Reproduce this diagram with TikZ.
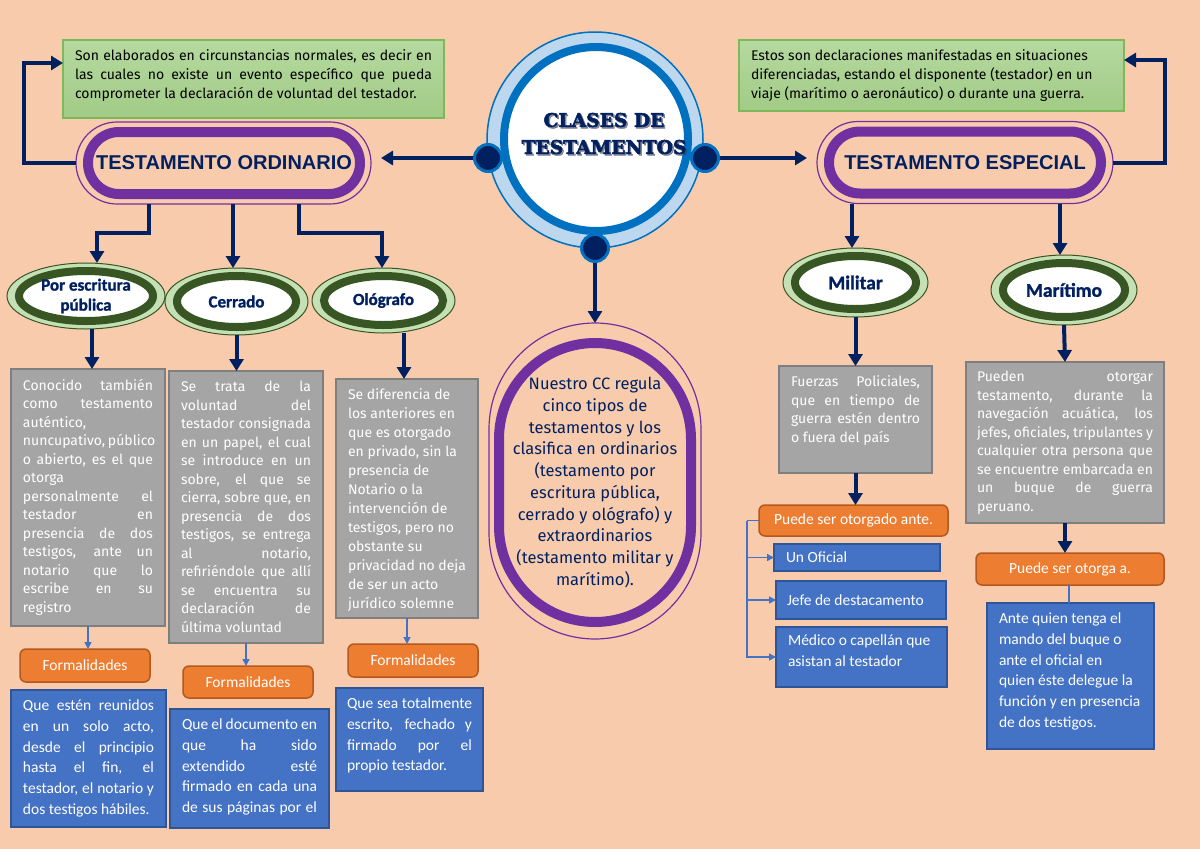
\documentclass[tikz,border=0pt]{standalone}
\usepackage{fontspec}
\setmainfont{Fira Sans}
\newfontfamily\carl[BoldFeatures={FakeBold=1.2}]{Carlito}
\newfontfamily\arl{Liberation Sans}
\newfontfamily\dvs[BoldFeatures={FakeBold=2.5}]{DejaVu Serif}
\usetikzlibrary{arrows.meta,shapes.geometric,calc}
\definecolor{bgc}{HTML}{F8CBAD}
\definecolor{navy}{HTML}{002060}
\definecolor{shadowc}{HTML}{3A3A55}
\definecolor{purp}{HTML}{7030A0}
\definecolor{cblue}{HTML}{0070C0}
\definecolor{ltblue}{HTML}{BDD7EE}
\definecolor{dkgreen}{HTML}{375623}
\definecolor{ltgreen}{HTML}{C5E0B4}
\definecolor{gfillt}{HTML}{B5D99F}
\definecolor{gfillb}{HTML}{A2CB86}
\definecolor{gborder}{HTML}{7DB95A}
\definecolor{grayf}{HTML}{A5A5A5}
\definecolor{grayd}{HTML}{7F7F7F}
\definecolor{orf}{HTML}{ED7D31}
\definecolor{orgd}{HTML}{B4581F}
\definecolor{bluef}{HTML}{4472C4}
\definecolor{blued}{HTML}{2F5597}
\newcommand\jl[1]{\makebox[\linewidth][s]{#1}\\}
\newcommand\pb[3]{\parbox[c][#1][t]{#2}{#3}}
\newcommand\cpb[2]{\parbox{#1}{\centering #2}}
\tikzset{
 navyarrow/.style={draw=navy, line width=4pt, -{Triangle[width=14pt,length=12pt]}},
 bluearrow/.style={draw=bluef, line width=1.5pt, -{Triangle[width=7pt,length=7pt]}},
 blueline/.style={draw=bluef, line width=1.5pt},
 stadO/.style={draw=purp, line width=1.2pt, inner sep=0pt, outer sep=0pt},
 stadI/.style={draw=purp, line width=10pt, inner sep=0pt, outer sep=0pt},
 gell/.style={ellipse, draw=dkgreen, line width=1pt, fill=ltgreen, inner sep=0pt, outer sep=0pt,
   text=navy, font=\carl\bfseries\fontsize{17}{20}\selectfont,
   path picture={\draw[dkgreen, line width=8pt, fill=white]
     let \p1=(path picture bounding box.north east), \p2=(path picture bounding box.center)
     in (\p2) ellipse ({\x1-\x2-12pt} and {\y1-\y2-8pt});}},
 graybox/.style={draw=grayd, fill=grayf, line width=2pt, text=white, anchor=north west,
   inner ysep=10pt, outer sep=0pt, font=\fontsize{14}{18.5}\selectfont},
 greenbox/.style={draw=gborder, line width=1.5pt, top color=gfillt, bottom color=gfillb,
   anchor=north west, inner ysep=10pt, outer sep=0pt, font=\fontsize{14}{18.7}\selectfont},
 bluebox/.style={draw=blued, fill=bluef, line width=2pt, text=white, anchor=north west,
   inner ysep=10pt, outer sep=0pt, font=\carl\fontsize{15.5}{20.7}\selectfont},
 orbox/.style={draw=orgd, fill=orf, line width=1.5pt, rounded corners=6pt, text=white,
   inner sep=0pt, outer sep=0pt, font=\carl\fontsize{15.5}{18}\selectfont},
 dot/.style={circle, fill=navy, draw=cblue, line width=3pt, minimum size=27pt, inner sep=0pt},
}
\begin{document}
\begin{tikzpicture}[x=1pt,y=-1pt]
\useasboundingbox (0,0) rectangle (1200,849);
\fill[bgc] (0,0) rectangle (1200,849);

% central circle
\node[circle, minimum size=216pt, fill=ltblue, draw=cblue, line width=1.5pt, inner sep=0pt] (ring) at (595,140) {};
\node[circle, minimum size=184pt, fill=white, draw=cblue, line width=8pt, inner sep=0pt] (inner) at (596,139) {};
\node[font=\dvs\bfseries\fontsize{18.7}{27}\selectfont, text=shadowc, opacity=0.55] (ttlsh) at (605.5,135) {\cpb{200pt}{CLASES DE\\TESTAMENTOS}};
\node[font=\dvs\bfseries\fontsize{18.7}{27}\selectfont, text=navy] (ttl) at (604,133.5) {\cpb{200pt}{CLASES DE\\TESTAMENTOS}};
\node[dot] (dl) at (488,158) {};
\node[dot] (dr) at (705,158) {};
\node[dot] (db) at (595,248) {};

% green info boxes
\node[greenbox, inner xsep=12pt] (gl) at (63,40) {\pb{58pt}{357pt}{\jl{Son elaborados en circunstancias normales, es decir en}\jl{las cuales no existe un evento específico que pueda}comprometer la declaración de voluntad del testador.}};
\node[greenbox, inner xsep=12pt] (gr) at (739,40) {\pb{51pt}{361pt}{Estos son declaraciones manifestadas en situaciones\\diferenciadas, estando el disponente (testador) en un\\viaje (marítimo o aeronáutico) o durante una guerra.}};

% stadium nodes
\node[stadO, minimum width=295pt, minimum height=82pt, rounded corners=41pt] (ordO) at (223.5,163) {};
\node[stadI, minimum width=272pt, minimum height=62pt, rounded corners=31pt, text=navy, font=\arl\bfseries\fontsize{20}{24}\selectfont] (ord) at (224,163) {TESTAMENTO ORDINARIO};
\node[stadO, minimum width=296pt, minimum height=82pt, rounded corners=41pt] (espO) at (965,162.5) {};
\node[stadI, minimum width=272pt, minimum height=62pt, rounded corners=31pt, text=navy, font=\arl\bfseries\fontsize{20}{24}\selectfont] (esp) at (965,162.5) {TESTAMENTO ESPECIAL};
\node[stadO, minimum width=212pt, minimum height=316pt, rounded corners=106pt] (ccO) at (595,481) {};
\node[stadI, minimum width=192pt, minimum height=279pt, rounded corners=96pt, text=navy, font=\fontsize{16.5}{21.7}\selectfont] (cc) at (595,482.5) {\cpb{186pt}{Nuestro CC regula\\cinco tipos de\\testamentos y los\\clasifica en ordinarios\\(testamento por\\escritura pública,\\cerrado y ológrafo) y\\extraordinarios\\(testamento militar y\\marítimo).}};

% green ellipses
\node[gell, minimum width=158pt, minimum height=66pt] (pe) at (86,296) {\cpb{110pt}{Por escritura\\pública}};
\node[gell, minimum width=143pt, minimum height=67pt] (cer) at (236.5,301.5) {Cerrado};
\node[gell, minimum width=143pt, minimum height=65pt] (olo) at (383.5,300.5) {Ológrafo};
\node[gell, minimum width=145pt, minimum height=69pt, font=\carl\bfseries\fontsize{19.5}{22}\selectfont] (mil) at (855.5,282.5) {Militar};
\node[gell, minimum width=146pt, minimum height=70pt, font=\carl\bfseries\fontsize{19.5}{22}\selectfont] (mar) at (1064,290) {Marítimo};

% gray boxes
\node[graybox, inner xsep=12pt] (g1) at (11,369) {\pb{237pt}{130pt}{\jl{Conocido también}\jl{como testamento}auténtico,\\\jl{nuncupativo, público}\jl{o abierto, es el que}otorga\\\jl{personalmente el}\jl{testador en}\jl{presencia de dos}\jl{testigos, ante un}\jl{notario que lo}\jl{escribe en su}registro}};
\node[graybox, inner xsep=12pt] (g2) at (169,371) {\pb{252pt}{130pt}{\jl{Se trata de la}\jl{voluntad del}\jl{testador consignada}\jl{en un papel, el cual}\jl{se introduce en un}\jl{sobre, el que se}\jl{cierra, sobre que, en}\jl{presencia de dos}\jl{testigos, se entrega}\jl{al notario,}\jl{refiriéndole que allí}\jl{se encuentra su}\jl{declaración de}última voluntad}};
\node[graybox, inner xsep=12pt, font=\fontsize{14}{19}\selectfont] (g3) at (336,379) {\pb{219pt}{118pt}{Se diferencia de\\los anteriores en\\que es otorgado\\en privado, sin la\\presencia de\\Notario o la\\intervención de\\testigos, pero no\\obstante su\\privacidad no deja\\de ser un acto\\jurídico solemne}};
\node[graybox, inner xsep=12pt] (fu) at (779,366) {\pb{87pt}{129pt}{\jl{Fuerzas Policiales,}\jl{que en tiempo de}\jl{guerra estén dentro}o fuera del país}};
\node[graybox, inner xsep=11pt, inner ysep=9pt] (pu) at (966,362) {\pb{143pt}{176pt}{\jl{Pueden otorgar}\jl{testamento, durante la}\jl{navegación acuática, los}\jl{jefes, oficiales, tripulantes y}\jl{cualquier otra persona que}\jl{se encuentre embarcada en}\jl{un buque de guerra}peruano.}};

% orange boxes
\node[orbox, minimum width=130pt, minimum height=33pt] (f1) at (85,665.5) {Formalidades};
\node[orbox, minimum width=130pt, minimum height=32pt] (f2) at (248,682) {Formalidades};
\node[orbox, minimum width=130pt, minimum height=33pt] (f3) at (413,660.5) {Formalidades};
\node[orbox, minimum width=189pt, minimum height=31pt] (oa) at (853.5,520.5) {Puede ser otorgado ante.};
\node[orbox, minimum width=188pt, minimum height=32pt] (ob) at (1070,569) {Puede ser otorga a.};

% blue boxes
\node[bluebox, inner xsep=12pt] (bl1) at (11,690) {\pb{117pt}{131pt}{\jl{Que estén reunidos}\jl{en un solo acto,}\jl{desde el principio}\jl{hasta el fin, el}\jl{testador, el notario y}dos testigos hábiles.}};
\node[bluebox, inner xsep=12pt] (bl2) at (170,709) {\pb{99pt}{135pt}{\jl{Que el documento en}\jl{que ha sido}\jl{extendido esté}\jl{firmado en cada una}\makebox[\linewidth][s]{de sus páginas por el}}};
\node[bluebox, inner xsep=11pt] (bl3) at (336,688) {\pb{83pt}{125pt}{\jl{Que sea totalmente}\jl{escrito, fechado y}\jl{firmado por el}propio testador.}};
\node[bluebox, inner xsep=12pt, inner ysep=0pt, minimum width=166pt, minimum height=27pt] (b1) at (774,544) {\parbox{142pt}{Un Oficial}};
\node[bluebox, inner xsep=11pt, inner ysep=0pt, minimum width=170pt, minimum height=38pt] (b2) at (776,581) {\parbox{148pt}{Jefe de destacamento}};
\node[bluebox, inner xsep=12pt, inner ysep=8pt] (m3) at (776,627) {\pb{44pt}{147pt}{Médico o capellán que\\asistan al testador}};
\node[bluebox, inner xsep=12pt] (an) at (987,603) {\pb{126pt}{143pt}{Ante quien tenga el\\mando del buque o\\ante el oficial en\\quien éste delegue la\\función y en presencia\\de dos testigos.}};

% navy connectors
\draw[navyarrow, shorten >=10pt] (dl.west) -- (ordO.east |- dl.west);
\draw[navyarrow, shorten >=10pt] (dr.east) -- (espO.west |- dr.east);
\draw[navyarrow] (db.south) -- (ccO.north);
\draw[navyarrow] (ordO.west) -- ++(-52pt,0pt) |- ([yshift=16pt]gl.west);
\draw[navyarrow] (espO.east) -- ++(52pt,0pt) |- ([yshift=15.5pt]gr.east);
\draw[navyarrow] ([xshift=-74.5pt]ordO.south) -- ++(0pt,-29pt) -| ([xshift=11pt]pe.north);
\draw[navyarrow] ([xshift=9.5pt]ordO.south) -- ([xshift=-3.5pt]cer.north);
\draw[navyarrow] ([xshift=75.5pt]ordO.south) -- ++(0pt,-29pt) -| ([xshift=-1.5pt]olo.north);
\draw[navyarrow] ([xshift=-113pt]espO.south) -- ([xshift=-3.5pt]mil.north);
\draw[navyarrow] ([xshift=95pt]espO.south) -- ([xshift=-4pt]mar.north);
\draw[navyarrow] ([xshift=6pt]pe.south) -- ([xshift=4pt]g1.north);
\draw[navyarrow] (cer.south) -- ([xshift=-9.5pt]g2.north);
\draw[navyarrow] ([xshift=20.5pt]olo.south) -- ([xshift=-3pt]g3.north);
\draw[navyarrow] (mil.south) -- (fu.north);
\draw[navyarrow] (mar.south) -- (pu.north);
\draw[navyarrow] (fu.south) -- (fu.south |- oa.north);
\draw[navyarrow] (pu.south) -- (pu.south |- ob.north);

% blue connectors
\draw[bluearrow] (g1.south) -- (g1.south |- f1.north);
\draw[bluearrow] (g2.south) -- (g2.south |- f2.north);
\draw[bluearrow] (g3.south) -- (g3.south |- f3.north);
\draw[blueline] ([xshift=-1pt]ob.south) -- ([xshift=-1pt]ob.south |- an.north);
\draw[blueline] (oa.west) -- ++(-12pt,0pt) coordinate (bk);
\draw[bluearrow] (bk) |- (m3.west);
\draw[bluearrow] (bk |- b1.west) -- (b1.west);
\draw[bluearrow] (bk |- b2.west) -- (b2.west);
\end{tikzpicture}
\end{document}
